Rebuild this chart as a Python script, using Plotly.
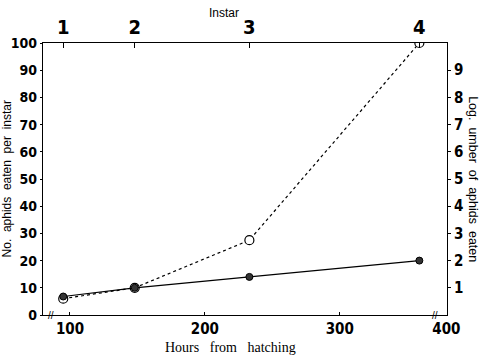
import plotly.graph_objects as go

# Data
hours = [95, 148, 233, 359]
instar_labels = ["1", "2", "3", "4"]
aphids_per_instar = [6, 10, 27.5, 100]     # open circles, left axis
log_aphids = [0.68, 1.0, 1.4, 2.0]         # filled circles, right axis

x_ticks = [100, 200, 300, 379]
x_ticktext = ["100", "200", "300", "400"]
y_ticks = [0, 10, 20, 30, 40, 50, 60, 70, 80, 90, 100]
y2_ticks = [1, 2, 3, 4, 5, 6, 7, 8, 9]

num_font = dict(family="DejaVu Sans Condensed, Liberation Sans Narrow, DejaVu Sans", size=15,
                color="black", weight="bold")

fig = go.Figure()
fig.add_trace(go.Scatter(
    x=hours, y=log_aphids, mode="lines+markers", yaxis="y2",
    line=dict(color="black", width=1.2),
    marker=dict(size=7, color="#333333", line=dict(color="black", width=1)),
    showlegend=False))
fig.add_trace(go.Scatter(
    x=hours, y=aphids_per_instar, mode="lines+markers",
    line=dict(color="black", width=1.2, dash="dot"),
    marker=dict(size=9, color="white", line=dict(color="black", width=1.2)),
    showlegend=False))
# invisible trace to activate top axis
fig.add_trace(go.Scatter(x=hours, y=aphids_per_instar, xaxis="x2", mode="markers",
                         marker=dict(opacity=0), hoverinfo="skip", showlegend=False))

fig.update_layout(
    width=482, height=357,
    margin=dict(l=43, r=35, t=43, b=42),
    paper_bgcolor="white", plot_bgcolor="white",
    xaxis=dict(range=[80, 379.5], tickvals=x_ticks, ticktext=x_ticktext,
               ticks="inside", ticklen=3, tickcolor="black",
               showline=True, linecolor="black", linewidth=1.2,
               showgrid=False, zeroline=False, tickfont=num_font),
    xaxis2=dict(range=[80, 379.5], overlaying="x", side="top",
                tickvals=hours, ticktext=instar_labels,
                ticks="inside", ticklen=5, tickcolor="black",
                showline=True, linecolor="black", linewidth=1.2,
                showgrid=False, zeroline=False,
                tickfont=dict(num_font, size=20)),
    yaxis=dict(range=[0, 100], tickvals=y_ticks,
               ticks="outside", ticklen=2, tickcolor="black",
               showline=True, linecolor="black", linewidth=1.2,
               showgrid=False, zeroline=False, tickfont=dict(num_font, size=14)),
    yaxis2=dict(range=[0, 10], overlaying="y", side="right", tickvals=y2_ticks,
                ticks="outside", ticklen=3, tickcolor="black",
                showline=True, linecolor="black", linewidth=1.2,
                showgrid=False, zeroline=False, tickfont=num_font),
    annotations=[
        dict(text="No.  aphids  eaten  per  instar", xref="paper", yref="paper",
             x=-0.088, y=0.5, xanchor="center", yanchor="middle", textangle=-90, showarrow=False,
             font=dict(family="Liberation Sans, Arial", size=12, color="black")),
        dict(text="Log.  umber  of  aphids  eaten", xref="paper", yref="paper",
             x=1.064, y=0.5, xanchor="center", yanchor="middle", textangle=90, showarrow=False,
             font=dict(family="Liberation Sans, Arial", size=12.5, color="black")),
        dict(text="Instar", xref="paper", yref="paper",
             x=0.448, y=1.11, xanchor="center", yanchor="middle", showarrow=False,
             font=dict(family="Liberation Sans, Arial", size=12, color="black")),
        dict(text="Hours   from   hatching", xref="paper", yref="paper",
             x=0.465, y=-0.121, xanchor="center", yanchor="middle", showarrow=False,
             font=dict(family="Liberation Serif, Times New Roman", size=14, color="black")),
        dict(text="//", xref="paper", yref="paper", x=0.02, y=0, xanchor="center",
             yanchor="middle", showarrow=False,
             font=dict(family="Liberation Sans", size=10, color="black")),
        dict(text="//", xref="paper", yref="paper", x=0.97, y=0, xanchor="center",
             yanchor="middle", showarrow=False,
             font=dict(family="Liberation Sans", size=10, color="black")),
    ],
)

fig.write_html("out.html")
